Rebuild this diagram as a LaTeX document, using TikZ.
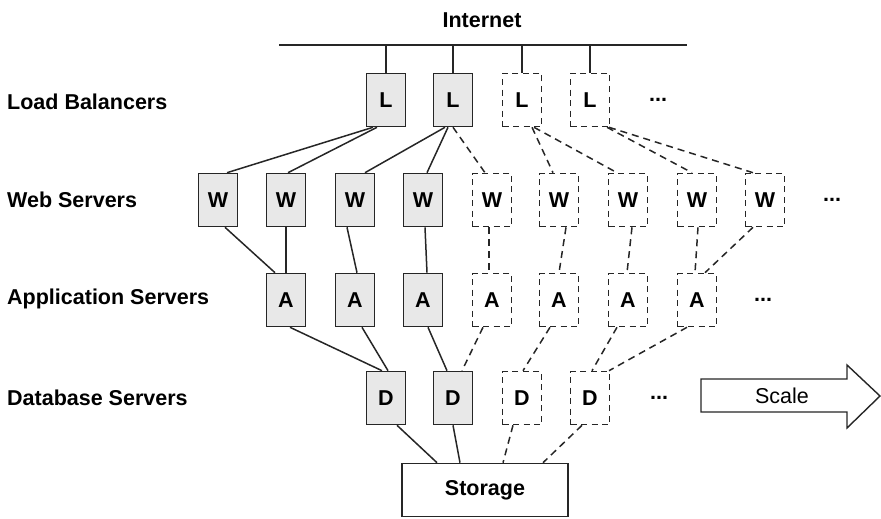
\documentclass[tikz,border=0pt]{standalone}
\usepackage{fontspec}
\setmainfont{Liberation Sans}
\begin{document}
\begin{tikzpicture}[x=1pt,y=-1pt,
  every node/.style={font=\fontsize{21.5}{26}\selectfont\bfseries},
  srv/.style={draw=black!85,line width=1.6pt,fill=black!9,minimum width=39pt,minimum height=53pt,inner sep=0pt},
  vsrv/.style={draw=black!85,line width=1.6pt,dash pattern=on 6pt off 4.5pt,fill=white,minimum width=39pt,minimum height=53pt,inner sep=0pt},
  lnk/.style={draw=black!85,line width=1.5pt},
  vlnk/.style={draw=black!85,line width=1.5pt,dash pattern=on 7pt off 5pt},
  lbl/.style={anchor=west,inner sep=0pt},
  dots/.style={inner sep=0pt}]
\useasboundingbox (0,0) rectangle (881,519);

% Internet bus
\node (inet) at (482,20) {Internet};
\coordinate (busL) at (279,45);
\coordinate (busR) at (687,45);
\draw[lnk] (busL) -- (busR);

% row labels
\node[lbl] (tl) at (7,102) {Load Balancers};
\node[lbl] (tw) at (7,200) {Web Servers};
\node[lbl] (ta) at (7,299) {Application Servers};
\node[lbl] (td) at (7,398) {Database Servers};

% load balancers
\node[srv]  (L1) at (386,100) {L};
\node[srv]  (L2) at (453,100) {L};
\node[vsrv] (L3) at (522,100) {L};
\node[vsrv] (L4) at (590,100) {L};
\node[dots] (Ldots) at (658,100) {...};
\foreach \n in {L1,L2,L3,L4}{
  \draw[lnk] (\n.north |- busL) -- (\n.north);
}

% web servers
\node[srv]  (W1) at (218,200) {W};
\node[srv]  (W2) at (286,200) {W};
\node[srv]  (W3) at (355,200) {W};
\node[srv]  (W4) at (423,200) {W};
\node[vsrv] (W5) at (492,200) {W};
\node[vsrv] (W6) at (559,200) {W};
\node[vsrv] (W7) at (628,200) {W};
\node[vsrv] (W8) at (697,200) {W};
\node[vsrv] (W9) at (765,200) {W};
\node[dots] (Wdots) at (832,200) {...};

% application servers
\node[srv]  (A1) at (286,300) {A};
\node[srv]  (A2) at (355,300) {A};
\node[srv]  (A3) at (423,300) {A};
\node[vsrv] (A4) at (492,300) {A};
\node[vsrv] (A5) at (559,300) {A};
\node[vsrv] (A6) at (628,300) {A};
\node[vsrv] (A7) at (697,300) {A};
\node[dots] (Adots) at (763,300) {...};

% database servers
\node[srv]  (D1) at (386,398) {D};
\node[srv]  (D2) at (453,398) {D};
\node[vsrv] (D3) at (522,398) {D};
\node[vsrv] (D4) at (590,398) {D};
\node[dots] (Ddots) at (659,398) {...};

% storage
\node[draw=black!85,line width=1.6pt,fill=white,minimum width=166pt,minimum height=53pt,inner sep=0pt] (S) at (485,490) {Storage};

% scale arrow
\draw[draw=black!85,line width=1.4pt,fill=white] (701,379) -- (847,379) -- (847,365) -- (880,396) -- (847,428) -- (847,412) -- (701,412) -- cycle;
\node[font=\fontsize{21.5}{26}\selectfont,inner sep=0pt] (scale) at (782,396) {Scale};

% L -> W
\draw[lnk]  ([xshift=-13pt]L1.south) -- ([xshift=9pt]W1.north);
\draw[lnk]  ([xshift=-9pt]L1.south) -- ([xshift=2pt]W2.north);
\draw[lnk]  ([xshift=-8pt]L2.south) -- ([xshift=10pt]W3.north);
\draw[lnk]  ([xshift=-5pt]L2.south) -- ([xshift=4pt]W4.north);
\draw[vlnk] ([xshift=0pt]L2.south) -- ([xshift=-7pt]W5.north);
\draw[vlnk] ([xshift=10pt]L3.south) -- ([xshift=-6pt]W6.north);
\draw[vlnk] ([xshift=12pt]L3.south) -- ([xshift=-11pt]W7.north);
\draw[vlnk] ([xshift=17pt]L4.south) -- ([xshift=-5pt]W8.north);
\draw[vlnk] ([xshift=19pt]L4.south) -- ([xshift=-12pt]W9.north);

% W -> A
\draw[lnk]  ([xshift=7pt]W1.south) -- ([xshift=-11pt]A1.north);
\draw[lnk]  (W2.south) -- (A1.north);
\draw[lnk]  ([xshift=-8pt]W3.south) -- ([xshift=2pt]A2.north);
\draw[lnk]  ([xshift=2pt]W4.south) -- ([xshift=4pt]A3.north);
\draw[vlnk] ([xshift=-3pt]W5.south) -- ([xshift=-3pt]A4.north);
\draw[vlnk] ([xshift=7pt]W6.south) -- ([xshift=0pt]A5.north);
\draw[vlnk] ([xshift=4pt]W7.south) -- ([xshift=-1pt]A6.north);
\draw[vlnk] ([xshift=1pt]W8.south) -- ([xshift=-2pt]A7.north);
\draw[vlnk] ([xshift=-12pt]W9.south) -- ([xshift=8pt]A7.north);

% A -> D
\draw[lnk]  ([xshift=4pt]A1.south) -- ([xshift=-4pt]D1.north);
\draw[lnk]  ([xshift=7pt]A2.south) -- ([xshift=2pt]D1.north);
\draw[lnk]  ([xshift=5pt]A3.south) -- ([xshift=-6pt]D2.north);
\draw[vlnk] ([xshift=-9pt]A4.south) -- ([xshift=9pt]D2.north);
\draw[vlnk] ([xshift=-9pt]A5.south) -- ([xshift=1pt]D3.north);
\draw[vlnk] ([xshift=-11pt]A6.south) -- ([xshift=2pt]D4.north);
\draw[vlnk] ([xshift=-10pt]A7.south) -- ([xshift=19pt]D4.north);

% D -> Storage
\draw[lnk]  ([xshift=11pt]D1.south) -- ([xshift=-48pt]S.north);
\draw[lnk]  ([xshift=0pt]D2.south) -- ([xshift=-25pt]S.north);
\draw[vlnk] ([xshift=-9pt]D3.south) -- ([xshift=18pt]S.north);
\draw[vlnk] ([xshift=-8pt]D4.south) -- ([xshift=58pt]S.north);
\end{tikzpicture}
\end{document}
